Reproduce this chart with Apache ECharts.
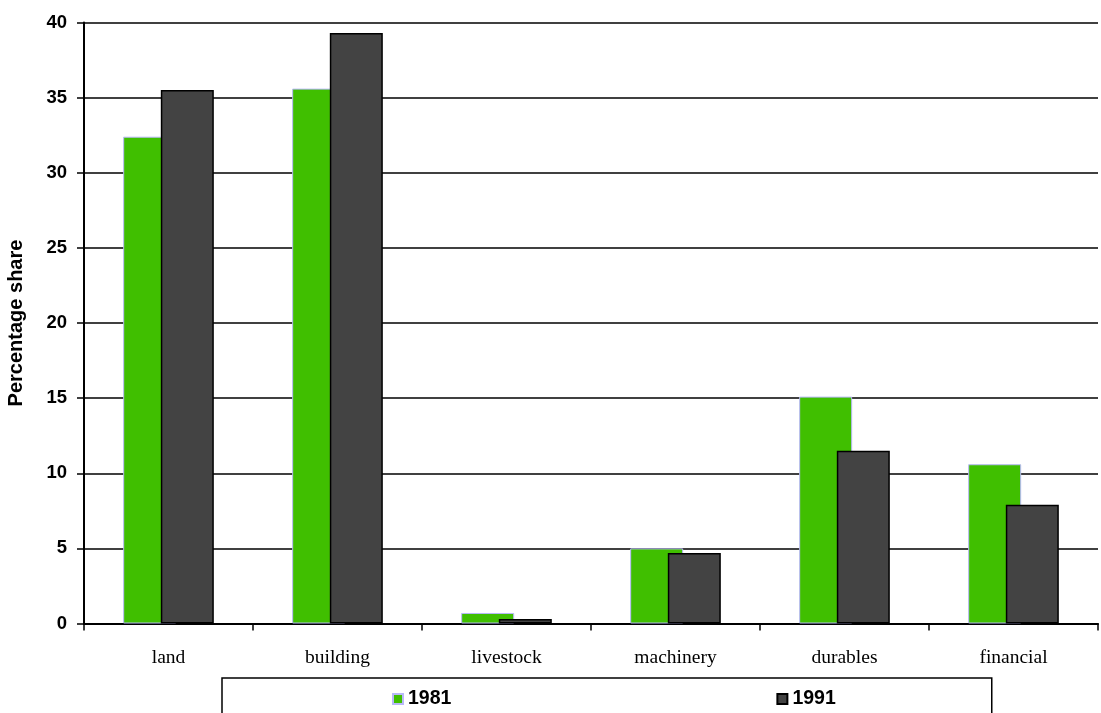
<!DOCTYPE html>
<html>
<head>
<meta charset="utf-8">
<script src="https://cdn.jsdelivr.net/npm/echarts@6/dist/echarts.min.js"></script>
<style>
html,body{margin:0;padding:0;background:#fff;}
#chart{width:1101px;height:713px;}
</style>
</head>
<body>
<div id="chart"></div>
<script>
const categories = ['land', 'building', 'livestock', 'machinery', 'durables', 'financial'];
const values1981 = [32.4, 35.6, 0.7, 5.0, 15.1, 10.6];
const values1991 = [35.5, 39.3, 0.3, 4.7, 11.5, 7.9];
const yTicks = [0, 5, 10, 15, 20, 25, 30, 35, 40];

const chart = echarts.init(document.getElementById('chart'));
chart.setOption({
  animation: false,
  backgroundColor: '#ffffff',
  grid: { left: 84, right: 3, top: 22.5, bottom: 89.5, containLabel: false, outerBoundsMode: 'none' },
  legend: {
    left: 222, top: 678,
    padding: [11, 156, 28, 170],
    borderColor: '#000', borderWidth: 1.5,
    itemGap: 325, itemWidth: 10, itemHeight: 10, icon: 'rect',
    textStyle: { fontFamily: 'Liberation Sans, Arial', fontWeight: 'bold', fontSize: 19.5, color: '#000' },
    data: ['1981', '1991']
  },
  xAxis: {
    type: 'category', data: categories, boundaryGap: true,
    axisLine: { lineStyle: { color: '#000', width: 2 } },
    axisTick: { show: true, length: 7, inside: false, lineStyle: { color: '#000', width: 1.5 } },
    axisLabel: { fontFamily: 'Liberation Serif, Times New Roman', fontSize: 19.5, color: '#000', margin: 24 }
  },
  yAxis: {
    type: 'value', min: 0, max: 40, interval: 5,
    name: 'Percentage share', nameLocation: 'middle', nameGap: 58,
    nameTextStyle: { fontFamily: 'Liberation Sans, Arial', fontWeight: 'bold', fontSize: 20, color: '#000' },
    axisLine: { show: true, lineStyle: { color: '#000', width: 2 } },
    axisTick: { show: true, length: 7, lineStyle: { color: '#000', width: 1.5 } },
    splitLine: { show: true, lineStyle: { color: '#000', width: 1.5 } },
    axisLabel: {
      fontFamily: 'Liberation Sans, Arial', fontWeight: 'bold', fontSize: 18.5, color: '#000', margin: 17,
      formatter: v => yTicks.includes(v) ? String(v) : ''
    }
  },
  series: [
    {
      name: '1981', type: 'bar', data: values1981,
      barWidth: 53, barGap: '-29%',
      itemStyle: { color: '#40BF00', borderColor: '#B8B8F8', borderWidth: 1 }
    },
    {
      name: '1991', type: 'bar', data: values1991,
      barWidth: 53,
      itemStyle: { color: '#434343', borderColor: '#000', borderWidth: 1.5 }
    }
  ]
});
</script>
</body>
</html>
